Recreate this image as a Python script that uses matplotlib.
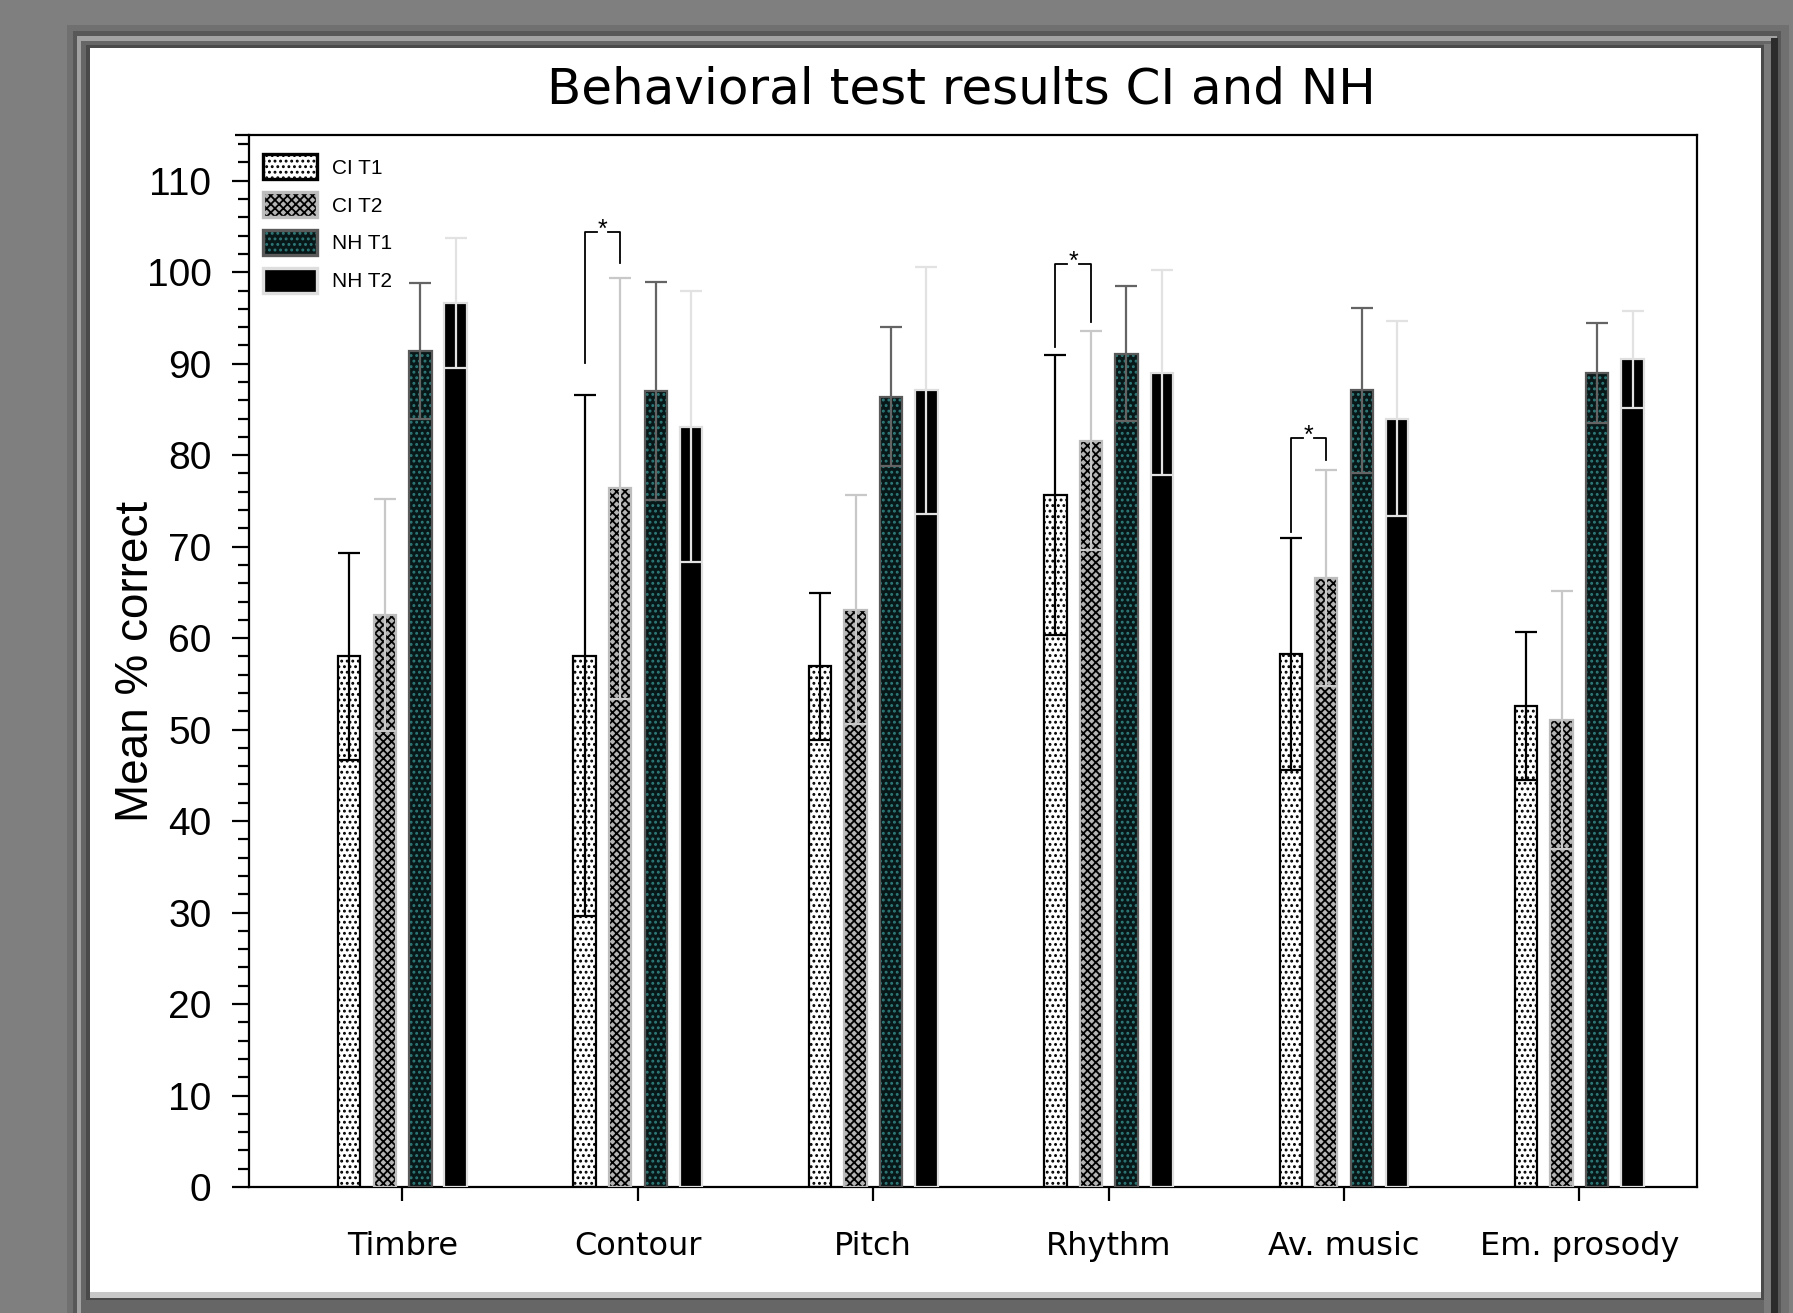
import matplotlib
matplotlib.use("Agg")
import matplotlib.pyplot as plt
import numpy as np
from matplotlib.patches import Rectangle
from matplotlib.legend_handler import HandlerTuple

categories = ["Timbre", "Contour", "Pitch", "Rhythm", "Av. music", "Em. prosody"]
series_names = ["CI T1", "CI T2", "NH T1", "NH T2"]

ci_t1_mean = [58.0, 58.1, 56.9, 75.6, 58.3, 52.6]
ci_t1_sd = [11.3, 28.5, 8.0, 15.3, 12.7, 8.1]
ci_t2_mean = [62.5, 76.4, 63.1, 81.6, 66.6, 51.1]
ci_t2_sd = [12.7, 23.0, 12.5, 12.0, 11.8, 14.1]
nh_t1_mean = [91.4, 87.0, 86.4, 91.1, 87.1, 89.0]
nh_t1_sd = [7.4, 11.9, 7.6, 7.4, 9.0, 5.5]
nh_t2_mean = [96.6, 83.1, 87.1, 89.0, 84.0, 90.5]
nh_t2_sd = [7.1, 14.8, 13.5, 11.2, 10.7, 5.3]

# significance brackets (CI T1 vs CI T2)
sig_groups = [1, 3, 4]
sig_left_low = [90.1, 91.8, 71.6]
sig_top = [104.4, 100.9, 81.9]
sig_right_low = [101.0, 94.6, 79.5]

means = [ci_t1_mean, ci_t2_mean, nh_t1_mean, nh_t2_mean]
sds = [ci_t1_sd, ci_t2_sd, nh_t1_sd, nh_t2_sd]

# style per series: face, hatch, hatch colour, edge colour, error bar colour
face_colors = ["white", "#b4b4b4", "#081818", "black"]
hatches = ["...", "xxxx", "...", None]
hatch_colors = ["black", "black", "#2f7a7a", "black"]
edge_colors = ["black", "#bdbdbd", "#5a5a5a", "#dedede"]
err_colors = ["black", "#c8c8c8", "#646464", "#e2e2e2"]

W, H = 1793, 1313
fig = plt.figure(figsize=(W / 100, H / 100), dpi=100)
fig.patch.set_facecolor("#7f7f7f")


def px_rect(x0, y0, x1, y1, color, z=-5):
    fig.add_artist(Rectangle((x0 / W, 1 - y1 / H), (x1 - x0) / W, (y1 - y0) / H,
                             transform=fig.transFigure, facecolor=color,
                             edgecolor="none", zorder=z))


# bevelled picture frame
px_rect(67, 25, 1789, 1313, "#707070", -10)
px_rect(73, 31, 1781, 1313, "#585858", -9)
px_rect(77, 36, 1777, 1313, "#a2a2a2", -8)
px_rect(81, 41, 1773, 1313, "#666666", -7)
px_rect(1771, 38, 1778, 1313, "#2c2c2c", -7)
px_rect(1764, 44, 1771, 1313, "#7a7a7a", -6)
px_rect(86, 45, 1764, 1300, "#4a4a4a", -6)
px_rect(90, 48, 1761, 1292, "white", -5)
px_rect(90, 1292, 1761, 1298, "#c8c8c8", -5)

ax = fig.add_axes([249 / W, 1 - 1187 / H, 1448 / W, 1052 / H])
ax.set_facecolor("white")

x = np.arange(len(categories))
offsets = [-0.226, -0.075, 0.076, 0.226]
bar_w = 0.095

plt.rcParams["hatch.linewidth"] = 1.3
for i in range(4):
    xs = x + offsets[i]
    ax.bar(xs, means[i], bar_w, color=face_colors[i], hatch=hatches[i],
           edgecolor=hatch_colors[i], linewidth=0, zorder=2)
    ax.bar(xs, means[i], bar_w, fill=False, edgecolor=edge_colors[i],
           linewidth=1.6, zorder=3)
    ax.errorbar(xs, means[i], yerr=sds[i], fmt="none", ecolor=err_colors[i],
                elinewidth=1.6, capsize=8, capthick=1.6, zorder=4)

for g, lo, top, rlo in zip(sig_groups, sig_left_low, sig_top, sig_right_low):
    xl = g + offsets[0]
    xr = g + offsets[1]
    xm = (xl + xr) / 2
    gap = 0.025
    ax.plot([xl, xl, xm - gap], [lo, top, top], color="black", lw=1.3, zorder=5)
    ax.plot([xm + gap, xr, xr], [top, top, rlo], color="black", lw=1.3, zorder=5)
    ax.text(xm, top + 0.2, "*", ha="center", va="center", fontsize=18,
            family="Liberation Sans", zorder=5)

ax.set_xlim(-0.652, 5.5)
ax.set_ylim(0, 115)
ax.set_yticks(np.arange(0, 111, 10))
ax.set_yticks(np.arange(0, 115, 2), minor=True)
ax.set_xticks(x)
ax.set_xticklabels(categories, family="DejaVu Sans", fontsize=23)
for lab in ax.get_yticklabels():
    lab.set_family("Liberation Sans")
    lab.set_fontsize(28)
ax.tick_params(axis="y", which="major", length=12, width=1.6, pad=15, direction="out")
ax.tick_params(axis="y", which="minor", length=8, width=1.6, direction="out")
ax.tick_params(axis="x", which="major", length=10, width=1.6, pad=22, direction="out")
ax.tick_params(axis="x", which="minor", length=0)
for s in ax.spines.values():
    s.set_linewidth(1.6)
ax.plot([-0.01, 0], [1, 1], transform=ax.transAxes, color="black", lw=1.6,
        clip_on=False, solid_capstyle="butt")

ax.set_ylabel("Mean % correct", family="Liberation Sans", fontsize=33, labelpad=-8)

fig.text(961 / W, 1 - 89 / H, "Behavioral test results CI and NH",
         ha="center", va="center", fontsize=36, family="DejaVu Sans")

handles = []
for i in range(4):
    handles.append((Rectangle((0, 0), 1, 1, facecolor=face_colors[i], hatch=hatches[i],
                              edgecolor=hatch_colors[i], linewidth=0),
                    Rectangle((0, 0), 1, 1, fill=False, edgecolor=edge_colors[i],
                              linewidth=2.4)))
leg = ax.legend(handles, series_names, handler_map={tuple: HandlerTuple(ndivide=1, pad=0)},
                loc="upper left", bbox_to_anchor=(14 / 1448, 1 - 19 / 1052),
                frameon=False, borderaxespad=0, borderpad=0,
                prop={"family": "Liberation Sans", "size": 15},
                handlelength=2.6, handleheight=1.5, handletextpad=0.7, labelspacing=0.6)

fig.savefig("out.png", dpi=100, facecolor=fig.get_facecolor())
